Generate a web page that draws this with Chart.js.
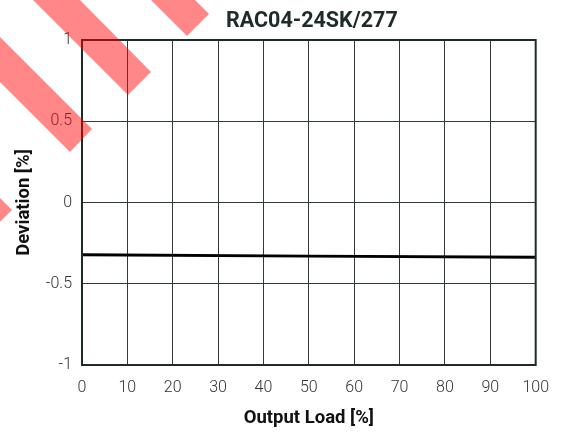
<!DOCTYPE html>
<html>
<head>
<meta charset="utf-8">
<script src="https://cdn.jsdelivr.net/npm/chart.js@4/dist/chart.umd.min.js"></script>
<style>
  html, body { margin: 0; padding: 0; background: #fff; }
  #wrap { width: 562px; height: 434px; }
</style>
</head>
<body>
<div id="wrap"><canvas id="chart" width="562" height="434"></canvas></div>
<script>
const loadPoints = [0, 50, 100];
const deviation = [-0.322, -0.33, -0.337];
const xTicks = [0, 10, 20, 30, 40, 50, 60, 70, 80, 90, 100];
const yTicks = [-1, -0.5, 0, 0.5, 1];
const chartTitle = 'RAC04-24SK/277';

const fontFamily = "'Roboto', 'Liberation Sans', sans-serif";
const gridColor = '#2f3b3b';

// title, frame and the red diagonal stripes drawn on top
const overlay = {
  id: 'overlay',
  afterDraw(chart) {
    const { ctx, chartArea } = chart;
    ctx.save();
    ctx.strokeStyle = '#1e2b2b';
    ctx.lineWidth = 2;
    ctx.strokeRect(chartArea.left, chartArea.top, chartArea.right - chartArea.left, chartArea.bottom - chartArea.top);

    ctx.fillStyle = '#1e2b2b';
    ctx.font = 'bold 21.5px ' + fontFamily;
    ctx.textAlign = 'center';
    ctx.textBaseline = 'middle';
    ctx.fillText(chartTitle, (chartArea.left + chartArea.right) / 2 + 3, 22);

    ctx.fillStyle = 'rgba(255, 0, 0, 0.47)';
    const stripes = [
      [[33, 0], [80, 0], [151, 72], [128, 95]],
      [[0, 37], [92, 129], [70, 152], [0, 82]],
      [[151, 0], [195, 0], [209, 14], [187, 36]],
      [[0, 198], [12, 210], [0, 222]],
    ];
    stripes.forEach((poly) => {
      ctx.beginPath();
      poly.forEach(([x, y], i) => (i ? ctx.lineTo(x, y) : ctx.moveTo(x, y)));
      ctx.closePath();
      ctx.fill();
    });
    ctx.restore();
  },
};

const ctx = document.getElementById('chart').getContext('2d');
new Chart(ctx, {
  type: 'line',
  data: {
    datasets: [{
      data: loadPoints.map((x, i) => ({ x, y: deviation[i] })),
      borderColor: '#000',
      borderWidth: 3,
      pointRadius: 0,
      tension: 0,
    }],
  },
  options: {
    responsive: false,
    animation: false,
    layout: { padding: { top: 40, right: 25, bottom: 0, left: 0 } },
    plugins: { legend: { display: false }, tooltip: { enabled: false } },
    scales: {
      x: {
        type: 'linear',
        min: 0,
        max: 100,
        afterBuildTicks: (scale) => { scale.ticks = xTicks.map((v) => ({ value: v })); },
        afterFit: (scale) => { scale.height = 69; },
        grid: { color: gridColor, lineWidth: 1, drawTicks: false },
        border: { display: false },
        ticks: {
          color: '#333', font: { family: fontFamily, size: 16, weight: 300 }, padding: 13,
          callback: (v) => String(v),
        },
        title: {
          display: true,
          text: 'Output Load [%]',
          color: '#111',
          font: { family: fontFamily, size: 18.5, weight: 'bold' },
          padding: { top: 0, bottom: 5 },
        },
      },
      y: {
        min: -1,
        max: 1,
        afterBuildTicks: (scale) => { scale.ticks = yTicks.map((v) => ({ value: v })); },
        afterFit: (scale) => { scale.width = 82; },
        grid: { color: gridColor, lineWidth: 1, drawTicks: false },
        border: { display: false },
        ticks: {
          color: '#333', font: { family: fontFamily, size: 16, weight: 300 }, padding: 10,
          callback: (v) => String(v),
        },
        title: {
          display: true,
          text: 'Deviation [%]',
          color: '#111',
          font: { family: fontFamily, size: 18.5, weight: 'bold' },
          padding: { top: 13, bottom: 0 },
        },
      },
    },
  },
  plugins: [overlay],
});
</script>
</body>
</html>
